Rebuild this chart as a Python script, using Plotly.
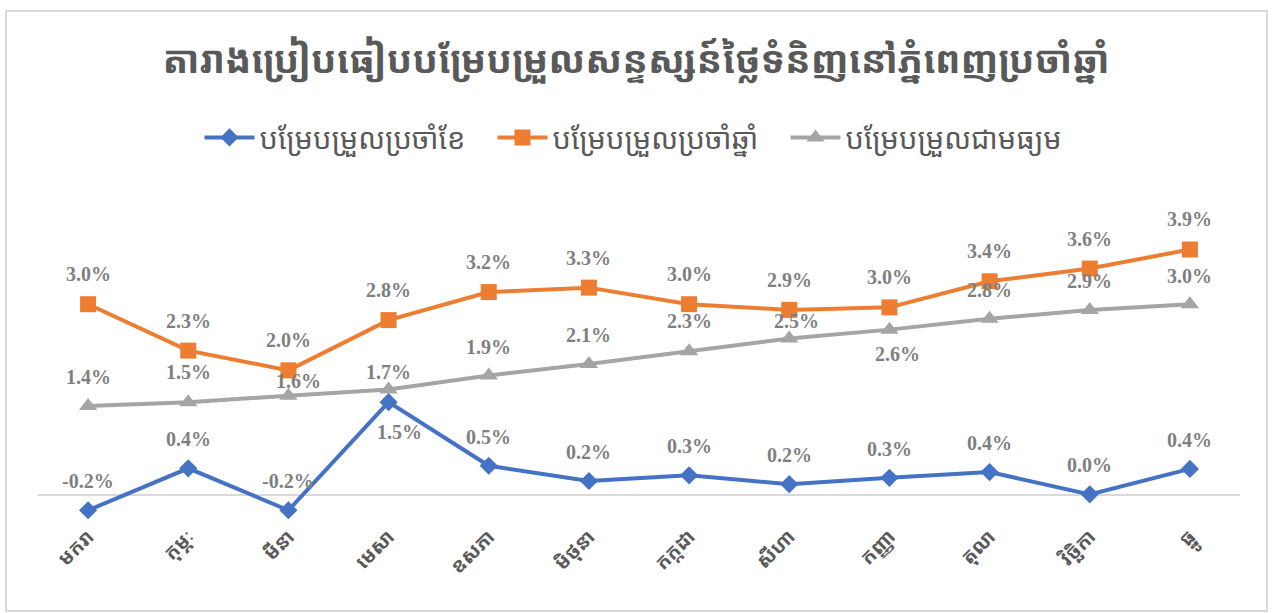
import plotly.graph_objects as go

months = ["មករា", "កុម្ភៈ", "មីនា", "មេសា", "ឧសភា", "មិថុនា",
          "កក្កដា", "សីហា", "កញ្ញា", "តុលា", "វិច្ឆិកា", "ធ្នូ"]

monthly = [-0.24, 0.42, -0.24, 1.46, 0.46, 0.22, 0.31, 0.17, 0.27, 0.36, 0.01, 0.41]
annual = [3.00, 2.27, 1.96, 2.75, 3.19, 3.26, 3.00, 2.91, 2.95, 3.36, 3.56, 3.86]
average = [1.40, 1.46, 1.56, 1.66, 1.88, 2.06, 2.26, 2.46, 2.60, 2.77, 2.91, 3.00]

series_names = ["បម្រែបម្រួលប្រចាំខែ", "បម្រែបម្រួលប្រចាំឆ្នាំ", "បម្រែបម្រួលជាមធ្យម"]
title_text = "តារាងប្រៀបធៀបបម្រែបម្រួលសន្ទស្សន៍ថ្លៃទំនិញនៅភ្នំពេញប្រចាំឆ្នាំ"

# label offsets (pixels) – style only
monthly_dy = [29, 29, 29, -30, 29, 29, 29, 29, 29, 29, 29, 29]
monthly_dx = [0, 0, 0, 11, 0, 0, 0, 0, 0, 0, 0, 0]
annual_dy = [30] * 12
annual_dx = [0] * 12
average_dy = [29, 30, 15, 17, 28, 29, 30, 18, -24, 29, 29, 28]
average_dx = [0, 0, 10, 0, 0, 0, 0, 7, 8, 0, 0, 0]

KH = "Khmer OS Muol Light, Khmer OS, Noto Sans Khmer, Noto Serif Khmer, Noto Sans, sans-serif"
LABEL_FONT = dict(family="Liberation Serif, Times New Roman, serif", size=20, color="#7F7F7F")

fig = go.Figure()
fig.add_trace(go.Scatter(x=months, y=monthly, name=series_names[0], mode="lines+markers",
                         line=dict(color="#4472C4", width=4),
                         marker=dict(symbol="diamond", size=14, color="#4472C4")))
fig.add_trace(go.Scatter(x=months, y=annual, name=series_names[1], mode="lines+markers",
                         line=dict(color="#ED7D31", width=4),
                         marker=dict(symbol="square", size=16, color="#ED7D31")))
fig.add_trace(go.Scatter(x=months, y=average, name=series_names[2], mode="lines+markers",
                         line=dict(color="#A5A5A5", width=4),
                         marker=dict(symbol="triangle-up", size=16, color="#A5A5A5")))

annotations = []
for vals, dys, dxs in [(monthly, monthly_dy, monthly_dx), (annual, annual_dy, annual_dx),
                       (average, average_dy, average_dx)]:
    for m, v, dy, dx in zip(months, vals, dys, dxs):
        annotations.append(dict(x=m, y=v, xref="x", yref="y", text=f"<b>{v:.1f}%</b>",
                                showarrow=False, yshift=dy, xshift=dx, font=LABEL_FONT))

fig.update_layout(
    width=1272, height=613,
    margin=dict(l=38, r=32, t=200, b=93),
    paper_bgcolor="white", plot_bgcolor="white",
    title=dict(text=f"<b>{title_text}</b>", x=0.5, xanchor="center", y=1 - 60 / 613,
               yanchor="middle", font=dict(family=KH, size=38, color="#595959")),
    legend=dict(orientation="h", x=0.5, xanchor="center", y=1.195, yanchor="middle",
                font=dict(family=KH, size=29, color="#595959"), itemwidth=50,
                entrywidth=228, entrywidthmode="pixels"),
    xaxis=dict(type="category", range=[-0.5, 11.5], showgrid=False, showline=False,
               zeroline=False, tickangle=-45, ticks="",
               tickfont=dict(family=KH, size=20, color="#595959", weight="bold")),
    yaxis=dict(range=[-0.393, 4.638], showgrid=False, showticklabels=False, zeroline=True,
               zerolinecolor="#D9D9D9", zerolinewidth=1.5, showline=False),
    annotations=annotations,
    showlegend=True,
)

# chart border
fig.add_shape(type="rect", xref="paper", yref="paper",
              x0=(6 - 38) / 1202, x1=(1267 - 38) / 1202,
              y0=(520 - 611) / 320, y1=(520 - 11) / 320,
              line=dict(color="#D9D9D9", width=2), fillcolor="rgba(0,0,0,0)", layer="below")

fig.write_html("out.html", config={"displayModeBar": False},
               post_script="document.body.style.margin='0';document.body.style.overflow='hidden';")
